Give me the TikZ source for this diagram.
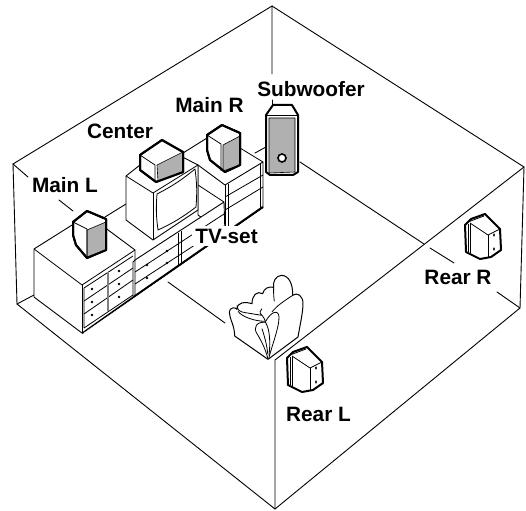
\documentclass[tikz,border=0pt]{standalone}
\usepackage{fontspec}
\setmainfont{Liberation Sans}
\definecolor{spkgray}{HTML}{B0B0B0}
\tikzset{
  wall/.style={line width=0.9pt,line cap=round},
  furn/.style={line width=0.9pt,line join=round,fill=white},
  fine/.style={line width=0.8pt,line join=round},
  heavy/.style={line width=2pt,line join=round},
  face/.style={fill=spkgray,line width=0.6pt,line join=round},
  lab/.style={font=\fontsize{20.8}{22}\selectfont\bfseries,anchor=base,inner sep=0pt},
  rearspk/.pic={
    \draw[heavy,fill=white] (0,0) -- (6,-6) -- (20,-11) -- (35,4) -- (36,25) -- (26,32) -- (15,34) -- (1,27) -- cycle;
    \draw[fine] (5,-2) -- (23,10) -- (35,4);
    \draw[fine] (23,10) -- (23,32);
    \draw[fine] (3,-1) -- (3,27);
    \draw[fine] (5,-2) -- (5,28);
    \draw[fine] (3,-3) -- (19,-9);
    \fill (29,10) ellipse (0.9 and 1.8);
    \fill (29,24) ellipse (0.9 and 1.8);
  }
}
\begin{document}
\begin{tikzpicture}[x=1pt,y=-1pt]
\useasboundingbox (0,0) rectangle (526,510);
\fill[white] (0,0) rectangle (526,510);
% room
\draw[wall] (272,74) -- (272,6) -- (13,164) -- (17,304) -- (275,509) -- (520,308) -- (524,167) -- (272,6);
\draw[wall] (275,509) -- (275,360) -- (524,167);
\draw[wall] (17,304) -- (34,295);
\draw[wall] (13,164) -- (28,177);
\draw[wall] (59,200) -- (73,211);
\draw[wall] (272,100) -- (272,106);
\draw[wall] (300,162) -- (424,244);
\draw[wall] (430,248) -- (454,263);
\draw[wall] (497,292) -- (520,308);
\draw[wall] (168,282) -- (225,323);
\draw[wall] (255,153) -- (266,147);
\draw[wall] (105,217) -- (126,204);
\draw[wall] (183,153) -- (207,138);
% tall right cabinet
\draw[furn] (198,165) -- (225,185) -- (263,162) -- (263,207) -- (225,234) -- (198,215) -- cycle;
\draw[fine] (240,148) -- (263,162);
\draw[fine] (225,185) -- (225,234) (228,184) -- (228,232);
\draw[fine] (225,197) -- (263,175);
\draw[fine] (225,210) -- (263,187);
\draw[fine] (260,164) -- (260,208);
% middle low cabinet
\draw[furn] (135,260) -- (224,202) -- (225,234) -- (135,296) -- cycle;
\draw[fine] (198,185) -- (224,202);
\draw[fine] (135,272) -- (224,214);
\draw[fine] (135,284) -- (224,226);
\draw[fine] (178,233) -- (178,265) (181,231) -- (181,263);
\foreach \p in {(147,265),(147,278),(167,251),(167,263)} \fill \p circle (1.3);
% thick plinth
\draw[line width=2.2pt] (82,333) -- (263,207);
\draw[white,line width=0.5pt] (84,333) -- (263,209);
% left low cabinet
\draw[furn] (34,249) -- (88,215) -- (135,250) -- (135,260) -- (133,262) -- (133,297) -- (82,333) -- (34,297) -- cycle;
\draw[fine] (34,249) -- (82,285) -- (135,250);
\draw[fine] (82,285) -- (82,333);
\draw[fine] (84,288) -- (84,328) -- (133,295);
\draw[fine] (84,288) -- (133,256);
\draw[fine] (84,301) -- (133,268);
\draw[fine] (84,314) -- (133,280);
\draw[color=gray,line width=1.2pt] (108,272) -- (108,311);
\foreach \p in {(92,289),(119,271),(92,302),(119,284),(92,315),(119,297)} \fill \p circle (1.3);
% TV
\draw[furn] (126,176) -- (163,147) -- (198,165) -- (198,210) -- (153,240) -- (126,220) -- cycle;
\draw[fine] (126,176) -- (153,193) -- (198,165);
\draw[fine] (153,193) -- (153,240);
\draw[fine] (157,194) to[bend right=6] (195,169) to[bend left=6] (196,207) to[bend left=6] (158,230) to[bend left=6] cycle;
% centre speaker
\draw[heavy,fill=white] (140,155) -- (162,140) -- (183,152) -- (183,172) -- (156,182) -- (140,170) -- cycle;
\draw[face] (157,165) -- (183,152) -- (183,172) -- (158,181) -- cycle;
\draw[fine] (140,155) -- (155,165) -- (155,181);
\draw[heavy] (140,155) -- (162,140) -- (183,152) -- (183,172) -- (156,182) -- (140,170) -- cycle;
% main L
\draw[heavy,fill=white] (73,222) -- (87,211) -- (106,219) -- (106,250) -- (87,258) -- (76,245) -- (73,235) -- cycle;
\draw[face] (87,230) -- (106,222) -- (106,250) -- (87,257) -- cycle;
\draw[fine] (73,222) -- (87,229) -- (87,258);
\draw[heavy] (73,222) -- (87,211) -- (106,219) -- (106,250) -- (87,258) -- (76,245) -- (73,235) -- cycle;
% main R
\draw[heavy,fill=white] (207,135) -- (222,125) -- (240,133) -- (240,165) -- (225,172) -- (210,160) -- (207,150) -- cycle;
\draw[face] (223,145) -- (240,136) -- (240,165) -- (223,171) -- cycle;
\draw[fine] (207,135) -- (221,144) -- (221,171);
\draw[heavy] (207,135) -- (222,125) -- (240,133) -- (240,165) -- (225,172) -- (210,160) -- (207,150) -- cycle;
% subwoofer
\draw[heavy,fill=white] (273,105) -- (292,105) -- (298,115) -- (298,172) -- (293,175) -- (270,175) -- (266,172) -- (266,115) -- cycle;
\draw[face] (269,118) -- (295,118) -- (295,172) -- (269,173) -- cycle;
\draw[fine] (266,115) -- (298,115);
\draw[line width=1.6pt,fill=white] (282,158) circle (4);
% couch
\begin{scope}[shift={(222,262)},x=0.3333pt,y=-0.3333pt]
\draw[furn,line width=1pt] (38,222) -- (138,292) -- (228,225)
  .. controls (234,190) and (243,150) .. (243,125)
  .. controls (243,100) and (225,90) .. (212,100)
  .. controls (213,65) and (200,40) .. (178,40)
  .. controls (160,42) and (152,60) .. (155,76)
  .. controls (140,72) and (125,80) .. (122,95)
  .. controls (105,85) and (90,100) .. (90,125)
  .. controls (70,118) and (45,120) .. (45,142)
  .. controls (42,135) and (22,135) .. (22,150)
  .. controls (22,170) and (38,190) .. (38,222) -- cycle;
\draw[fine] (45,130) .. controls (45,145) and (55,150) .. (70,152) .. controls (90,155) and (105,158) .. (120,160) .. controls (110,152) and (115,145) .. (120,140);
\draw[fine] (48,148) .. controls (60,165) and (100,178) .. (130,178);
\draw[fine] (120,160) .. controls (125,165) and (128,172) .. (130,178);
\draw[fine] (212,100) .. controls (190,115) and (165,130) .. (150,150);
\draw[fine] (155,76) .. controls (154,95) and (156,110) .. (157,118);
\draw[fine] (130,180) .. controls (145,150) and (170,140) .. (171,165) .. controls (172,195) and (150,250) .. (140,290);
\draw[fine] (132,181) .. controls (105,178) and (92,195) .. (105,215) .. controls (120,240) and (132,265) .. (138,292);
\draw[fine] (130,180) .. controls (145,205) and (145,245) .. (141,280);
\draw[fine] (120,200) .. controls (128,225) and (135,250) .. (137,275);
\end{scope}
% rear speakers
\pic at (287,358) {rearspk};
\pic at (465,225) {rearspk};
% labels
\node[lab] (lmainl) at (65,193) {Main L};
\node[lab] (lcenter) at (120,139) {Center};
\node[lab] (lmainr) at (209.5,113) {Main R};
\node[lab] (lsub) at (311,97) {Subwoofer};
\node[lab,fill=white,inner xsep=3pt,inner ysep=3pt] (ltv) at (226.5,243) {TV-set};
\node[lab] (lrearr) at (458,284) {Rear R};
\node[lab] (lrearl) at (318.5,421) {Rear L};
\end{tikzpicture}
\end{document}
